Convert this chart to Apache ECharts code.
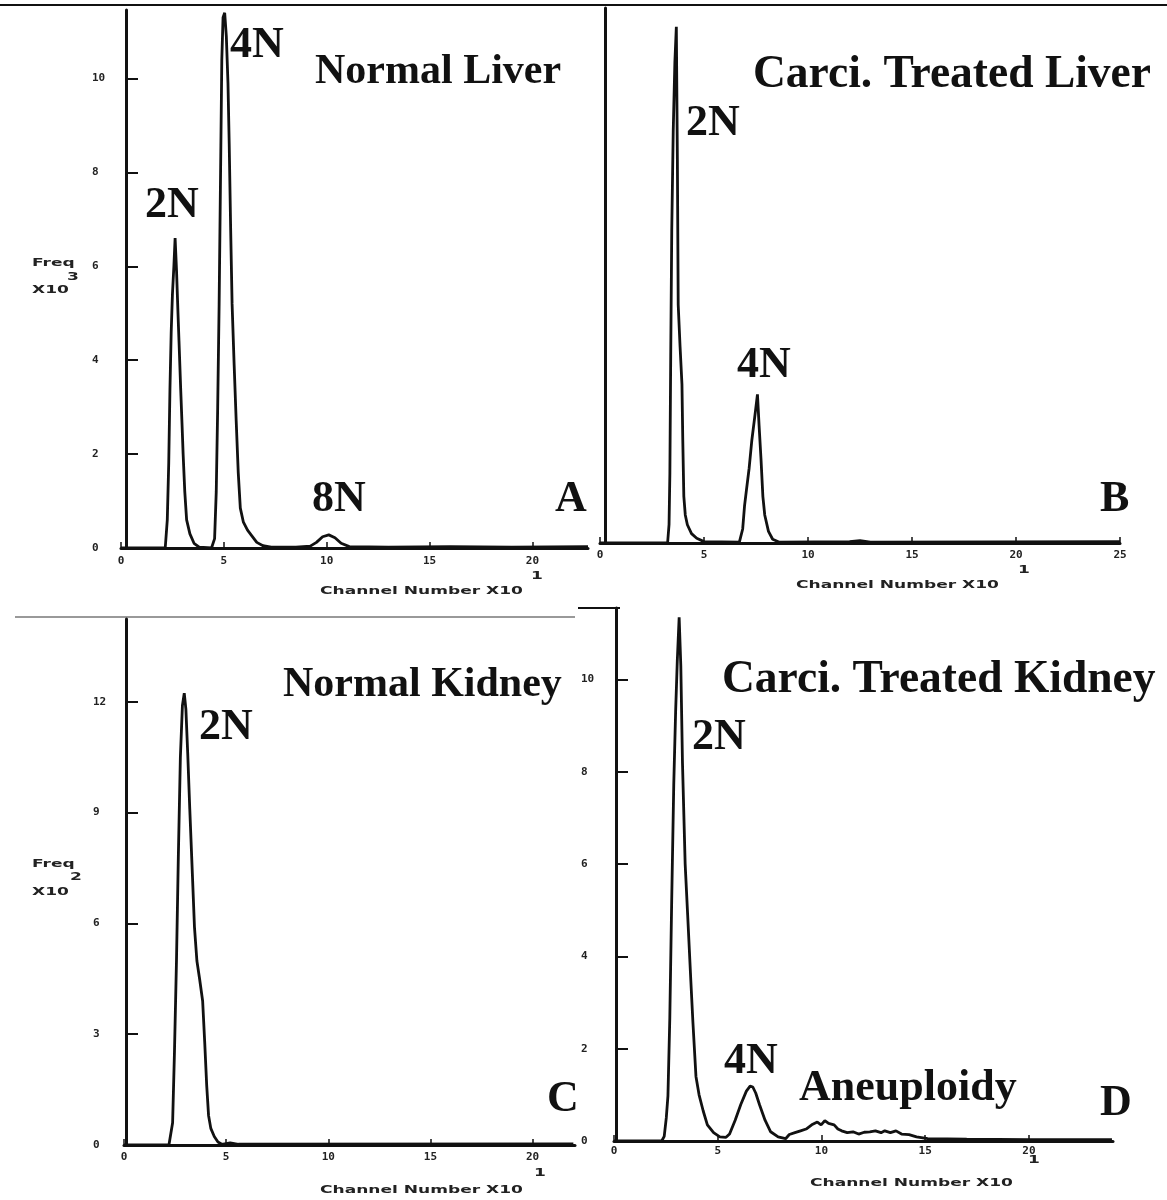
<!DOCTYPE html>
<html>
<head>
<meta charset="utf-8">
<script src="https://cdn.jsdelivr.net/npm/echarts@6/dist/echarts.min.js"></script>
<style>
  html, body { margin: 0; padding: 0; background: #fff; }
  #chart { width: 1167px; height: 1200px; }
</style>
</head>
<body>
<div id="chart"></div>
<script>
// DNA histograms, x = channel number (x10), y = frequency
const liverNormal = [
  [0, 0], [2.15, 0], [2.25, 0.6], [2.32, 1.8], [2.38, 3.4], [2.44, 4.6], [2.5, 5.4], [2.57, 6.0],
  [2.63, 6.6], [2.7, 5.9], [2.77, 5.0], [2.82, 4.4], [2.9, 3.4], [2.97, 2.6], [3.02, 2.0], [3.1, 1.2],
  [3.19, 0.6], [3.35, 0.3], [3.55, 0.1], [3.8, 0.02], [4.4, 0], [4.55, 0.2], [4.63, 1.2], [4.7, 3.0],
  [4.77, 5.2], [4.84, 8.0], [4.9, 10.4], [4.96, 11.3], [5.04, 11.4], [5.12, 10.9], [5.2, 9.9],
  [5.26, 8.6], [5.33, 6.8], [5.4, 5.2], [5.5, 3.9], [5.6, 2.7], [5.7, 1.6], [5.8, 0.85], [5.95, 0.55],
  [6.15, 0.38], [6.36, 0.26], [6.6, 0.12], [6.9, 0.05], [7.3, 0.02], [8.5, 0.02], [9.2, 0.04],
  [9.5, 0.12], [9.8, 0.24], [10.1, 0.28], [10.4, 0.22], [10.7, 0.1], [11.1, 0.03], [13, 0.02],
  [16, 0.03], [19, 0.02], [22.7, 0.03]
];
const liverTreated = [
  [0, 0], [3.25, 0], [3.32, 0.4], [3.36, 1.5], [3.4, 4.0], [3.45, 6.7], [3.52, 8.8], [3.6, 10.3],
  [3.67, 11.05], [3.72, 8.2], [3.76, 5.1], [3.85, 4.2], [3.94, 3.4], [3.98, 2.2], [4.03, 1.0],
  [4.1, 0.6], [4.2, 0.39], [4.4, 0.2], [4.65, 0.1], [5.0, 0.03], [6.7, 0.02], [6.86, 0.3], [6.95, 0.8],
  [7.04, 1.13], [7.17, 1.6], [7.3, 2.2], [7.44, 2.7], [7.57, 3.18], [7.65, 2.5], [7.74, 1.8],
  [7.83, 1.0], [7.92, 0.6], [8.1, 0.25], [8.3, 0.08], [8.6, 0.02], [12, 0.03], [12.5, 0.05],
  [13, 0.02], [25, 0.03]
];
const kidneyNormal = [
  [0, 0], [2.2, 0], [2.26, 0.05], [2.38, 0.6], [2.47, 2.5], [2.57, 5.0], [2.66, 7.8], [2.76, 10.5],
  [2.86, 11.9], [2.95, 12.23], [3.03, 11.8], [3.12, 10.6], [3.22, 9.1], [3.35, 7.3], [3.45, 5.9],
  [3.57, 4.98], [3.7, 4.5], [3.85, 3.9], [3.95, 2.8], [4.05, 1.6], [4.14, 0.8], [4.25, 0.45],
  [4.42, 0.23], [4.6, 0.08], [4.79, 0.02], [5.2, 0.06], [5.6, 0.02], [22, 0.03]
];
const kidneyTreated = [
  [0, 0], [2.3, 0], [2.42, 0.1], [2.52, 0.5], [2.6, 0.98], [2.69, 2.67], [2.78, 5.19], [2.88, 7.72],
  [2.97, 9.3], [3.05, 10.4], [3.14, 11.35], [3.22, 10.3], [3.3, 8.2], [3.43, 6.0], [3.55, 4.9],
  [3.7, 3.5], [3.8, 2.6], [3.95, 1.4], [4.1, 1.0], [4.3, 0.65], [4.5, 0.35], [4.8, 0.18], [5.1, 0.09],
  [5.4, 0.08], [5.57, 0.15], [5.84, 0.45], [6.11, 0.79], [6.38, 1.08], [6.56, 1.19], [6.69, 1.17],
  [6.83, 1.04], [7.01, 0.79], [7.28, 0.45], [7.55, 0.2], [7.91, 0.09], [8.27, 0.05], [8.45, 0.14],
  [8.72, 0.18], [8.99, 0.22], [9.26, 0.26], [9.53, 0.35], [9.8, 0.41], [9.98, 0.35], [10.16, 0.44],
  [10.34, 0.38], [10.61, 0.35], [10.79, 0.26], [10.97, 0.22], [11.24, 0.18], [11.52, 0.2],
  [11.79, 0.15], [12.06, 0.19], [12.33, 0.2], [12.6, 0.22], [12.87, 0.18], [13.05, 0.22],
  [13.32, 0.18], [13.59, 0.22], [13.86, 0.15], [14.22, 0.14], [14.58, 0.09], [15.12, 0.05],
  [17, 0.04], [20, 0.03], [24, 0.03]
];

const xTicks = [0, 5, 10, 15, 20];
const xTicksB = [0, 5, 10, 15, 20, 25];
const yTicksA = [0, 2, 4, 6, 8, 10];
const yTicksC = [0, 3, 6, 9, 12];
const yTicksD = [0, 2, 4, 6, 8, 10];

const ink = '#111';
const bigFont = 'bold 44px "Liberation Serif"';
const titleFont = 'bold 45.5px "Liberation Serif"';
const normalFont = 'bold 42px "Liberation Serif"';

function xAx(i, max, ticks, margin) {
  return {
    type: 'value', gridIndex: i, min: 0, max: max,
    axisLine: { show: true, lineStyle: { color: ink, width: 3 } },
    axisTick: { show: true, inside: true, length: 6, customValues: ticks, lineStyle: { color: ink, width: 1.5 } },
    axisLabel: { show: true, customValues: ticks, margin: margin, color: '#222', fontSize: 11, fontWeight: 'bold', fontFamily: 'DejaVu Sans Mono' },
    splitLine: { show: false }
  };
}
function yAx(i, max, ticks, offset, margin, showTicks) {
  return {
    type: 'value', gridIndex: i, min: 0, max: max, offset: offset,
    axisLine: { show: true, lineStyle: { color: ink, width: 3 } },
    axisTick: { show: showTicks, inside: true, length: 12, customValues: ticks || [], lineStyle: { color: ink, width: 2 } },
    axisLabel: { show: !!ticks, customValues: ticks || [], align: 'left', margin: margin, color: '#222', fontSize: 11, fontWeight: 'bold', fontFamily: 'DejaVu Sans Mono' },
    splitLine: { show: false }
  };
}
function trace(i, data) {
  return {
    type: 'line', xAxisIndex: i, yAxisIndex: i, data: data, showSymbol: false,
    lineStyle: { color: ink, width: 2.8 }, animation: false, silent: true
  };
}
function big(text, x, y, font) {
  return { type: 'text', x: x, y: y, style: { text: text, font: font || bigFont, fill: ink, align: 'left', verticalAlign: 'middle' } };
}
function small(text, x, y) {
  return { type: 'text', x: x, y: y, scaleX: 1.55, style: { text: text, font: 'bold 11px "DejaVu Sans"', fill: '#222', align: 'left', verticalAlign: 'middle' } };
}
function rule(x1, y1, x2, y2, color, w) {
  return { type: 'line', shape: { x1: x1, y1: y1, x2: x2, y2: y2 }, style: { stroke: color, lineWidth: w } };
}

const chart = echarts.init(document.getElementById('chart'));
chart.setOption({
  backgroundColor: '#fff',
  animation: false,
  grid: [
    { left: 121, top: 10, width: 467, height: 538 },
    { left: 600, top: 8, width: 520, height: 535 },
    { left: 124, top: 619, width: 451, height: 526 },
    { left: 614, top: 608, width: 499, height: 533 }
  ],
  xAxis: [
    xAx(0, 22.7, xTicks, 8),
    xAx(1, 25, xTicksB, 7),
    xAx(2, 22.08, xTicks, 7),
    xAx(3, 24.05, xTicks, 5)
  ],
  yAxis: [
    yAx(0, 11.46, yTicksA, -5, 34, true),
    yAx(1, 11.45, null, -5, 30, false),
    yAx(2, 14.24, yTicksC, -2, 33, true),
    yAx(3, 11.55, yTicksD, -2, 35, true)
  ],
  series: [
    trace(0, liverNormal),
    trace(1, liverTreated),
    trace(2, kidneyNormal),
    trace(3, kidneyTreated)
  ],
  graphic: [
    rule(0, 5, 1167, 5, ink, 2),
    rule(15, 617, 575, 617, '#777', 1.5),
    rule(578, 608, 620, 608, ink, 2),
    // panel A
    big('4N', 230, 46),
    big('Normal Liver', 315, 72, normalFont),
    big('2N', 145, 206),
    big('8N', 312, 500),
    big('A', 555, 500),
    // panel B
    big('Carci. Treated Liver', 753, 75, titleFont),
    big('2N', 686, 124),
    big('4N', 737, 366),
    big('B', 1100, 500),
    // panel C
    big('Normal Kidney', 283, 685, normalFont),
    big('2N', 199, 728),
    big('C', 547, 1100),
    // panel D
    big('Carci. Treated Kidney', 722, 680, titleFont),
    big('2N', 692, 738),
    big('4N', 724, 1062),
    big('Aneuploidy', 799, 1089),
    big('D', 1100, 1104),
    // axis names
    small('Channel Number X10', 320, 591),
    small('1', 531, 576),
    small('Channel Number X10', 796, 585),
    small('1', 1018, 570),
    small('Channel Number X10', 320, 1190),
    small('1', 534, 1173),
    small('Channel Number X10', 810, 1183),
    small('1', 1028, 1160),
    small('Freq', 32, 263),
    small('X10', 32, 290),
    small('3', 67, 277),
    small('Freq', 32, 864),
    small('X10', 32, 892),
    small('2', 70, 877)
  ]
});
</script>
</body>
</html>
